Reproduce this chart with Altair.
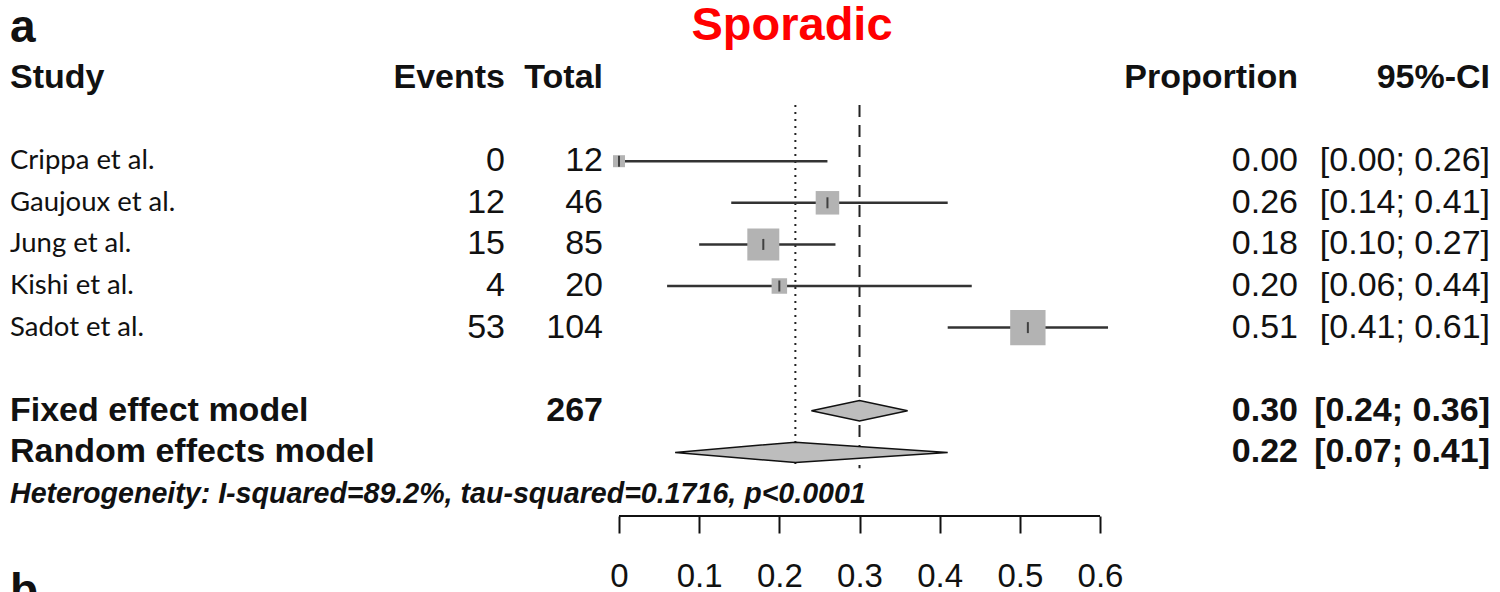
import altair as alt
import pandas as pd

# ---------------- data ----------------
studies = ["Crippa et al.", "Gaujoux et al.", "Jung et al.", "Kishi et al.", "Sadot et al."]
events = [0, 12, 15, 4, 53]
totals = [12, 46, 85, 20, 104]
props = [0.00, 0.26, 0.18, 0.20, 0.51]
ci_low = [0.00, 0.14, 0.10, 0.06, 0.41]
ci_high = [0.26, 0.41, 0.27, 0.44, 0.61]

models = ["Fixed effect model", "Random effects model"]
model_total = ["267", ""]
model_est = [0.30, 0.22]
model_low = [0.24, 0.07]
model_high = [0.36, 0.41]

headers = ["Study", "Events", "Total", "Proportion", "95%-CI"]
heterogeneity = "Heterogeneity: I-squared=89.2%, tau-squared=0.1716, p<0.0001"
tick_values = [0, 0.1, 0.2, 0.3, 0.4, 0.5, 0.6]
title_text = "Sporadic"
panel_labels = ["a", "b"]

# ---------------- layout rows ----------------
study_rows = [2, 3, 4, 5, 6]
model_rows = [8, 9]
header_row = 0
het_row = 10

sdf = pd.DataFrame({
    "study": studies, "events": [str(e) for e in events], "total": totals,
    "total_txt": [str(t) for t in totals], "p": props, "lo": ci_low, "hi": ci_high,
    "row": study_rows,
})
sdf["p_txt"] = sdf["p"].map(lambda v: f"{v:.2f}")
sdf["ci_txt"] = [f"[{a:.2f}; {b:.2f}]" for a, b in zip(ci_low, ci_high)]

mdf = pd.DataFrame({
    "model": models, "total_txt": model_total, "est": model_est,
    "lo": model_low, "hi": model_high, "row": model_rows,
})
mdf["p_txt"] = mdf["est"].map(lambda v: f"{v:.2f}")
mdf["ci_txt"] = [f"[{a:.2f}; {b:.2f}]" for a, b in zip(model_low, model_high)]

# diamond polygons
HALF = 0.245
drows = []
for m, e, lo, hi, r in zip(models, model_est, model_low, model_high, model_rows):
    drows.append({"model": m, "x": lo, "y": r, "y2": r})
    drows.append({"model": m, "x": e, "y": r - HALF, "y2": r + HALF})
    drows.append({"model": m, "x": hi, "y": r, "y2": r})
ddf = pd.DataFrame(drows)

refdf = pd.DataFrame({"x": model_est, "kind": ["fixed", "random"], "y": [0.65, 0.65], "y2": [9.38, 9.38]})
axdf = pd.DataFrame({"x": [min(tick_values)], "x2": [max(tick_values)]})

header_x = [10, 505, 603, 1298, 1490]
header_align = ["left", "right", "right", "right", "right"]

# ---------------- scales ----------------
PX0 = 619.0
PXU = 801.7
xscale = alt.Scale(domain=[-PX0 / PXU, (1500 - PX0) / PXU], nice=False, zero=False)
xaxis = alt.Axis(values=tick_values, format=".1~f", domain=False, grid=False,
                 ticks=True, tickSize=17, tickWidth=2, tickColor="#111",
                 labelFontSize=33, labelFont="Liberation Sans", labelColor="#111",
                 labelPadding=43, labelFlush=False, labelOverlap=False,
                 labelBaseline="middle", title=None)
yscale = alt.Scale(domain=[-78 / 41.6, (516 - 78) / 41.6], reverse=True, nice=False, zero=False)


def X(field):
    return alt.X(field, type="quantitative", scale=xscale, axis=xaxis)


def Y(field):
    return alt.Y(field, type="quantitative", scale=yscale, axis=None)


SANS = "Liberation Sans"
NAME_FONT = "Lato"
INK = "#111111"
FS = 34

# reference lines
ref_fixed = alt.Chart(refdf[refdf["kind"] == "fixed"]).mark_rule(
    color="#222", strokeWidth=2, strokeDash=[12, 8]).encode(x=X("x"), y=Y("y"), y2="y2")
ref_random = alt.Chart(refdf[refdf["kind"] == "random"]).mark_rule(
    color="#222", strokeWidth=2, strokeDash=[2, 5]).encode(x=X("x"), y=Y("y"), y2="y2")

# CI lines
ci = alt.Chart(sdf).mark_rule(color="#333", strokeWidth=2.5).encode(x=X("lo"), x2="hi", y=Y("row"))
squares = alt.Chart(sdf).mark_square(color="#b3b3b3", opacity=1).encode(
    x=X("p"), y=Y("row"),
    size=alt.Size("total:Q", scale=alt.Scale(domain=[0, 104], range=[0, 1250]), legend=None))
est_tick = alt.Chart(sdf).mark_tick(orient="vertical", size=11, thickness=2, color="#111").encode(
    x=X("p"), y=Y("row"))

diamonds = alt.Chart(ddf).mark_area(fill="#bdbdbd", stroke="#111", strokeWidth=1.5, opacity=1).encode(
    x=X("x"), y=Y("y"), y2="y2", detail="model:N")

axis_line = alt.Chart(axdf).mark_rule(color="#111", strokeWidth=2).encode(
    x=X("x"), x2="x2", y=alt.value("height"))


# text layers
def txt(df, field, xpx, align, size, font=SANS, weight="normal", style="normal", color=INK):
    return alt.Chart(df).mark_text(align=align, baseline="middle", font=font, fontSize=size,
                                   fontWeight=weight, fontStyle=style, color=color).encode(
        x=alt.value(xpx), y=Y("row"), text=f"{field}:N")


header_layers = []
for h, xp, a in zip(headers, header_x, header_align):
    hd = pd.DataFrame({"txt": [h], "row": [header_row]})
    header_layers.append(txt(hd, "txt", xp, a, FS, weight="bold"))

names = txt(sdf, "study", 10, "left", 27.5, font=NAME_FONT)
ev = txt(sdf, "events", 505, "right", FS)
tot = txt(sdf, "total_txt", 603, "right", FS)
prop = txt(sdf, "p_txt", 1298, "right", FS)
cis = txt(sdf, "ci_txt", 1490, "right", FS)

mnames = txt(mdf, "model", 10, "left", FS, weight="bold")
mtot = txt(mdf, "total_txt", 603, "right", FS, weight="bold")
mprop = txt(mdf, "p_txt", 1298, "right", FS, weight="bold")
mcis = txt(mdf, "ci_txt", 1490, "right", FS, weight="bold")

hetdf = pd.DataFrame({"txt": [heterogeneity], "row": [het_row]})
het = txt(hetdf, "txt", 10, "left", 28.6, weight="bold", style="italic")

titledf = pd.DataFrame({"txt": [title_text], "row": [-1.25]})
title = txt(titledf, "txt", 792, "center", 47, weight="bold", color="#ff0000")

adf = pd.DataFrame({"txt": [panel_labels[0]], "row": [-1.2]})
alabel = txt(adf, "txt", 10, "left", 46, weight="bold")
bdf = pd.DataFrame({"txt": [panel_labels[1]], "row": [12.35]})
blabel = txt(bdf, "txt", 10, "left", 46, weight="bold")

chart = alt.layer(
    ref_fixed, ref_random, ci, squares, est_tick, diamonds, axis_line,
    *header_layers, names, ev, tot, prop, cis, mnames, mtot, mprop, mcis, het, title, alabel, blabel,
).properties(
    width=1500, height=516,
    autosize=alt.AutoSizeParams(type="none"),
    padding={"left": 0, "top": 0, "right": 0, "bottom": 76},
    background="white",
).configure_view(stroke=None)

chart.save("out.html", embed_options={"renderer": "svg", "actions": False})
